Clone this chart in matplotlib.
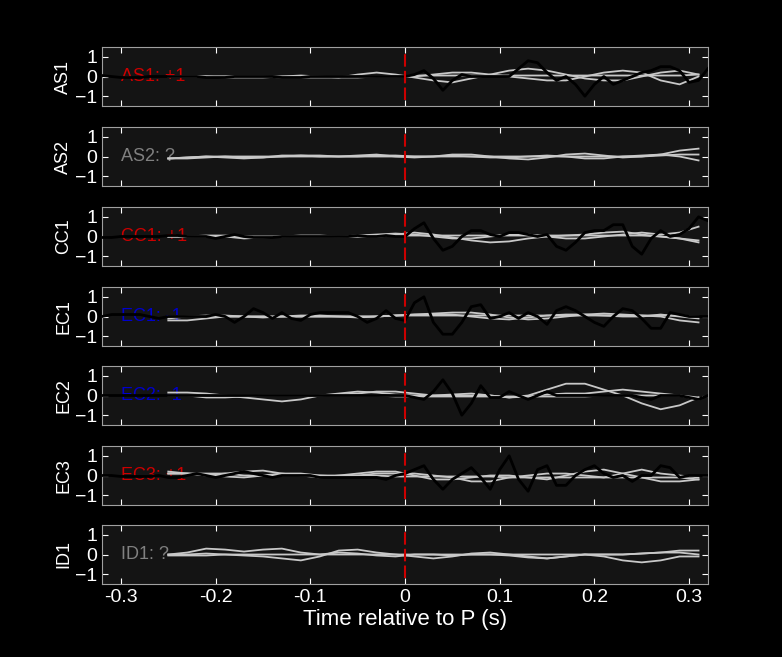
import numpy as np
import matplotlib.pyplot as plt

plt.rcParams['font.family'] = ['Liberation Sans', 'DejaVu Sans']

# stations and polarity picks
stations = ['AS1', 'AS2', 'CC1', 'EC1', 'EC2', 'EC3', 'ID1']
picks = ['+1', '?', '+1', '-1', '-1', '+1', '?']
pick_colors = {'+1': '#cc0000', '-1': '#0000cc', '?': '#808080'}

# observed trace (black), sampled every 0.01 s from -0.32 to 0.32
t_obs = np.round(np.arange(-0.32, 0.3201, 0.01), 2)
obs = {
    'AS1': [0.05, 0.0, -0.05, -0.05, -0.05, 0.0, 0.0, 0.0, 0.0, 0.0, 0.0, -0.05, -0.05, -0.05, 0.0, 0.0, 0.0, 0.0, 0.0, -0.05, -0.05, -0.05, 0.0, 0.0, 0.0, 0.0, 0.0, 0.0, 0.0, 0.0, 0.0, 0.0,
            0.0, 0.1, 0.3, -0.1, -0.7, -0.2, 0.1, 0.0, 0.0, 0.0, 0.0, 0.0, 0.4, 0.8, 0.7, 0.2, -0.2, 0.0, -0.4, -1.0, -0.4, 0.0, -0.4, -0.2, 0.0, 0.2, 0.3, 0.5, 0.5, 0.3, -0.3, -0.2, 0.4],
    'AS2': None,
    'CC1': [-0.05, -0.05, 0.0, 0.0, 0.0, 0.0, 0.0, 0.05, 0.05, 0.0, 0.0, 0.0, -0.1, 0.0, 0.1, 0.0, -0.05, -0.05, -0.05, 0.0, 0.0, 0.0, 0.0, 0.0, 0.0, 0.0, 0.0, 0.05, 0.0, 0.0, 0.05, 0.0,
            0.0, 0.4, 0.7, -0.1, -0.7, -0.5, 0.0, 0.3, 0.3, 0.1, 0.0, 0.2, 0.2, 0.1, 0.0, 0.1, -0.5, -0.7, -0.3, 0.2, 0.3, 0.3, 0.6, 0.6, -0.5, -0.9, -0.1, 0.3, 0.0, 0.1, 0.4, 1.0, 0.8],
    'EC1': [0.0, 0.1, 0.1, 0.1, 0.1, 0.0, -0.1, 0.0, 0.0, 0.0, 0.0, 0.0, 0.1, 0.0, -0.3, 0.0, 0.4, 0.2, -0.1, 0.2, -0.1, -0.2, 0.1, 0.2, 0.2, 0.2, 0.2, 0.0, -0.3, -0.1, 0.3, -0.1,
            -0.2, 0.7, 1.0, -0.3, -0.9, -0.9, -0.3, 0.5, 0.6, -0.1, 0.0, 0.2, -0.1, 0.2, 0.0, -0.4, 0.3, 0.5, 0.3, 0.0, -0.3, -0.5, 0.0, 0.4, 0.3, -0.1, -0.6, -0.6, 0.2, 0.1, 0.0, 0.0, 0.0],
    'EC2': [0.0, 0.0, 0.0, 0.0, 0.0, 0.0, 0.0, 0.0, 0.0, 0.0, 0.0, 0.0, 0.0, 0.0, 0.0, 0.0, 0.0, 0.0, 0.0, 0.0, 0.0, 0.0, 0.0, 0.0, 0.0, 0.0, 0.0, 0.0, 0.0, 0.0, 0.0, 0.0,
            0.0, -0.1, -0.2, 0.2, 0.8, 0.1, -1.0, -0.4, 0.5, -0.1, -0.1, 0.2, 0.0, -0.2, 0.0, 0.2, 0.0, 0.0, 0.0, 0.0, 0.0, 0.0, 0.0, 0.0, 0.0, -0.1, -0.2, 0.0, 0.0, 0.0, -0.1, -0.2, 0.0],
    'EC3': [0.0, 0.0, -0.05, -0.05, -0.05, -0.05, 0.0, -0.1, -0.1, 0.0, 0.1, 0.0, -0.1, 0.0, 0.1, 0.2, 0.1, 0.0, -0.1, 0.0, 0.0, 0.0, 0.0, -0.1, -0.1, -0.1, -0.1, -0.1, -0.1, -0.1, -0.2, 0.0,
            0.1, 0.3, 0.5, -0.2, -0.7, -0.2, 0.1, 0.4, -0.1, -0.7, 0.3, 1.0, -0.2, -0.8, 0.3, 0.5, -0.5, -0.5, 0.0, 0.3, 0.5, 0.1, -0.1, 0.0, -0.3, 0.0, 0.0, 0.5, 0.4, -0.1, 0.0, 0.0, 0.0],
    'ID1': None,
}

# synthetic traces (gray), sampled every 0.02 s from -0.25 to 0.31
t_syn = np.round(np.arange(-0.25, 0.3101, 0.02), 2)
syn = {
    'AS1': [[0.0, 0.0, 0.0, 0.0, 0.0, 0.0, -0.05, -0.05, -0.05, -0.05, 0.1, 0.2, 0.1, -0.05, -0.2, -0.3, -0.1, 0.1, 0.3, 0.4, 0.3, 0.1, -0.1, -0.2, -0.2, 0.0, 0.2, 0.3, 0.1],
            [0.0, 0.0, 0.0, -0.05, -0.05, -0.05, 0.0, 0.05, 0.0, -0.05, -0.05, 0.0, 0.0, 0.0, 0.1, 0.2, 0.2, 0.1, 0.0, -0.1, -0.2, -0.2, 0.0, 0.2, 0.3, 0.2, -0.2, -0.4, 0.0],
            [0.0, 0.0, 0.0, 0.0, 0.0, 0.0, 0.0, 0.0, 0.0, 0.0, 0.0, 0.0, 0.0, 0.05, 0.05, 0.05, 0.05, 0.05, 0.05, 0.05, 0.05, 0.05, 0.05, 0.05, 0.05, 0.05, 0.05, 0.05, 0.1]],
    'AS2': [[-0.1, -0.05, 0.0, -0.05, -0.1, -0.05, 0.05, 0.05, 0.0, 0.0, 0.05, 0.1, 0.0, -0.05, 0.0, 0.1, 0.1, 0.0, -0.1, -0.15, -0.05, 0.1, 0.15, 0.05, -0.05, 0.0, 0.1, 0.3, 0.4],
            [-0.1, -0.05, 0.0, 0.0, -0.05, -0.05, 0.0, 0.05, 0.05, 0.0, 0.0, 0.05, 0.05, 0.0, 0.0, 0.05, 0.0, -0.05, -0.05, 0.0, 0.05, 0.0, -0.1, -0.1, 0.0, 0.05, 0.1, 0.0, -0.2],
            [-0.1, -0.1, -0.05, 0.0, 0.0, 0.0, 0.0, 0.0, 0.0, 0.0, 0.0, 0.0, 0.0, 0.0, 0.0, 0.0, 0.0, 0.0, 0.0, 0.0, 0.0, 0.0, 0.0, 0.0, 0.0, 0.0, 0.05, 0.1, 0.1]],
    'CC1': [[0.0, 0.0, 0.05, 0.05, 0.0, -0.05, 0.0, 0.05, 0.05, 0.0, 0.0, 0.05, 0.1, 0.2, 0.1, -0.05, -0.2, -0.3, -0.25, -0.1, 0.0, 0.05, 0.1, 0.2, 0.25, 0.1, 0.0, -0.1, -0.2],
            [0.0, 0.0, 0.0, 0.0, -0.1, -0.05, 0.0, 0.0, 0.0, 0.0, 0.05, 0.1, 0.15, 0.1, 0.0, -0.1, -0.1, 0.0, 0.1, 0.1, 0.0, -0.1, -0.1, 0.0, 0.1, 0.2, 0.1, 0.2, 0.5],
            [0.0, 0.0, 0.0, 0.0, 0.0, 0.0, 0.0, 0.0, 0.0, 0.0, 0.0, 0.0, 0.05, 0.05, 0.05, 0.05, 0.05, 0.05, 0.05, 0.05, 0.05, 0.05, 0.05, 0.05, 0.05, 0.05, 0.0, -0.1, -0.3]],
    'EC1': [[-0.2, -0.2, -0.1, 0.0, 0.0, 0.0, 0.0, 0.0, 0.0, 0.0, 0.0, 0.0, 0.05, 0.1, 0.15, 0.2, 0.2, 0.1, -0.05, -0.15, -0.1, 0.0, 0.1, 0.15, 0.1, 0.05, 0.0, -0.2, -0.3],
            [-0.1, 0.0, 0.05, 0.05, 0.0, -0.05, 0.0, 0.05, 0.05, 0.0, -0.05, 0.0, 0.05, 0.1, 0.1, 0.1, 0.0, -0.1, -0.15, -0.05, 0.05, 0.1, 0.1, 0.05, 0.0, 0.0, 0.1, 0.0, -0.1],
            [0.0, 0.0, 0.0, 0.0, 0.0, 0.0, 0.0, 0.0, 0.0, 0.0, 0.0, 0.0, 0.05, 0.05, 0.05, 0.05, 0.05, 0.05, 0.05, 0.05, 0.05, 0.05, 0.05, 0.05, 0.05, 0.05, 0.05, 0.05, 0.0]],
    'EC2': [[0.15, 0.15, 0.1, 0.0, -0.1, -0.2, -0.3, -0.2, 0.0, 0.1, 0.2, 0.15, 0.05, 0.0, 0.0, 0.0, 0.0, 0.0, -0.1, 0.0, 0.3, 0.6, 0.6, 0.3, 0.0, -0.4, -0.7, -0.5, -0.1],
            [0.0, 0.0, -0.1, -0.1, -0.05, 0.0, 0.0, 0.0, 0.0, 0.05, 0.1, 0.2, 0.2, 0.1, 0.0, 0.05, 0.1, 0.0, -0.1, -0.05, 0.05, 0.1, 0.1, 0.2, 0.3, 0.2, 0.1, 0.0, -0.2],
            [0.0, 0.0, 0.0, 0.0, 0.0, 0.0, 0.0, 0.0, 0.0, 0.0, 0.0, 0.0, -0.05, -0.05, -0.05, -0.05, -0.05, -0.05, -0.05, -0.05, -0.05, -0.05, -0.05, 0.0, 0.0, 0.0, 0.0, 0.0, -0.1]],
    'EC3': [[0.2, 0.1, 0.0, 0.1, 0.2, 0.25, 0.1, 0.0, -0.1, 0.0, 0.1, 0.2, 0.2, 0.0, -0.2, -0.2, -0.1, 0.0, 0.0, -0.1, -0.2, 0.0, 0.2, 0.3, 0.1, -0.1, -0.3, -0.3, -0.2],
            [0.1, 0.1, 0.05, -0.05, -0.1, 0.0, 0.1, 0.1, 0.0, -0.05, 0.0, 0.1, 0.1, 0.1, 0.0, -0.1, -0.3, -0.3, -0.1, 0.0, 0.1, 0.1, 0.0, -0.1, 0.1, 0.3, 0.1, 0.0, -0.1],
            [0.1, 0.1, 0.1, 0.1, 0.0, 0.0, 0.0, 0.0, 0.0, 0.0, 0.0, 0.0, -0.05, -0.05, -0.05, -0.05, -0.05, -0.05, -0.1, -0.1, -0.1, -0.1, -0.1, -0.1, -0.1, -0.1, -0.1, -0.1, -0.2]],
    'ID1': [[0.0, 0.1, 0.3, 0.25, 0.15, 0.25, 0.3, 0.1, 0.0, 0.1, 0.05, -0.05, -0.1, 0.0, 0.0, -0.05, 0.0, 0.0, -0.05, -0.15, -0.2, -0.1, 0.0, 0.0, 0.0, 0.05, 0.1, 0.2, 0.2],
            [0.0, 0.0, 0.05, 0.0, -0.05, -0.1, -0.2, -0.3, -0.1, 0.2, 0.25, 0.1, 0.0, -0.1, -0.2, -0.1, 0.05, 0.1, 0.0, -0.1, -0.2, -0.1, 0.0, -0.1, -0.3, -0.4, -0.3, -0.1, -0.1],
            [-0.05, -0.05, -0.05, 0.0, 0.0, 0.0, 0.0, 0.0, 0.0, 0.0, 0.0, 0.0, 0.0, 0.0, 0.0, 0.0, 0.0, 0.0, 0.0, 0.0, 0.0, 0.0, 0.0, 0.0, 0.0, 0.05, 0.1, 0.1, 0.0]],
}

fig = plt.figure(figsize=(7.82, 6.57), dpi=100, facecolor='black')
bottoms = [551, 471, 391, 311, 232, 152, 73]
for i, st in enumerate(stations):
    ax = fig.add_axes([102 / 782, bottoms[i] / 657, 606 / 782, 59 / 657])
    ax.set_facecolor('#141414')
    # label sits under the traces
    ax.text(-0.3, 0, st + ': ' + picks[i], color=pick_colors[picks[i]],
            fontsize=13, va='center', ha='left', zorder=1)
    for s in syn[st]:
        ax.plot(t_syn, s, color='#c8c8c8', lw=1.3, zorder=2)
    if obs[st] is not None:
        ax.plot(t_obs, obs[st], color='black', lw=2, zorder=3)
    ax.plot([0, 0], [-1.2, 1.2], color='#cc0000', ls='--', lw=1.5, dashes=(6, 2), zorder=4)
    ax.set_xlim(-0.32, 0.32)
    ax.set_ylim(-1.5, 1.5)
    ax.set_yticks([-1, 0, 1])
    ax.set_xticks([-0.3, -0.2, -0.1, 0, 0.1, 0.2, 0.3])
    ax.tick_params(colors='white', direction='in', top=True, right=True, labelsize=14, length=4)
    for sp in ax.spines.values():
        sp.set_color('#a0a0a0')
    ax.set_ylabel(st, color='white', fontsize=13, labelpad=2)
    if i < len(stations) - 1:
        ax.set_xticklabels([])
    else:
        ax.set_xticklabels(['-0.3', '-0.2', '-0.1', '0', '0.1', '0.2', '0.3'])
        ax.set_xlabel('Time relative to P (s)', color='white', fontsize=16, labelpad=2)

fig.savefig('out.png', facecolor='black')
